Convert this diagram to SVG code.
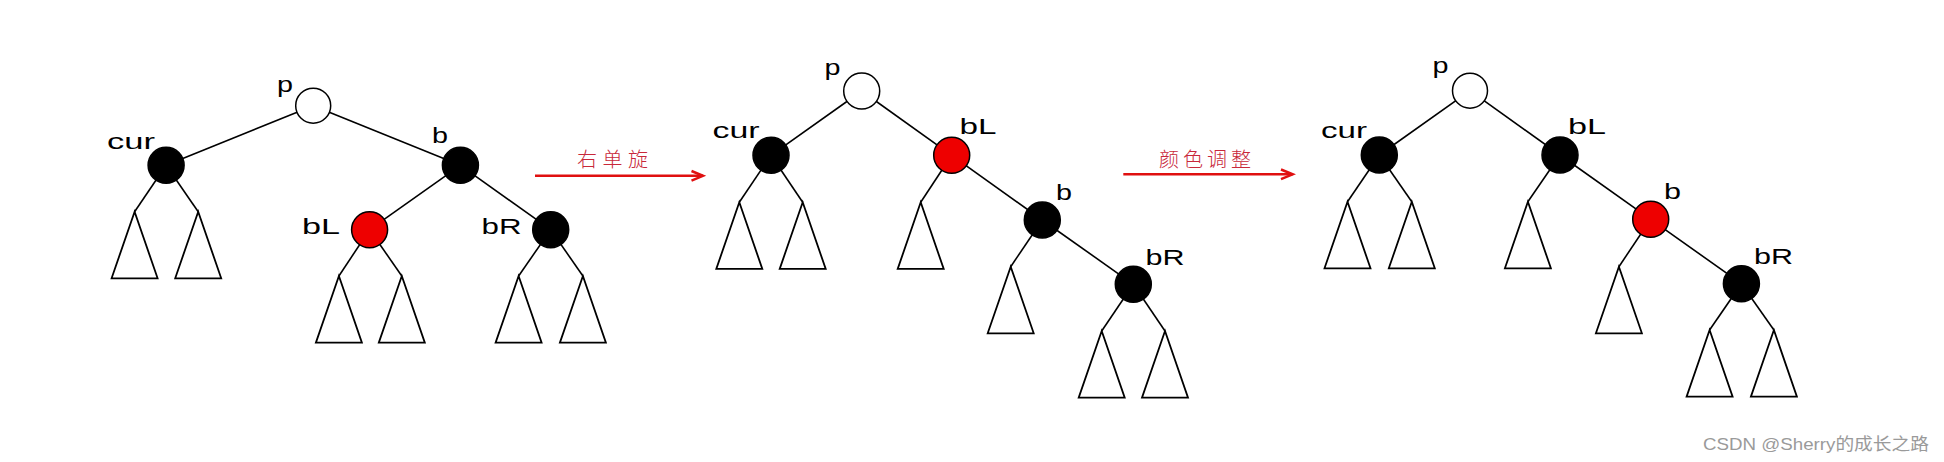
<svg xmlns="http://www.w3.org/2000/svg" width="1944" height="462" viewBox="0 0 1944 462">
<style>
.edge{stroke:#000;stroke-width:1.6;fill:none}
.tri{stroke:#000;stroke-width:1.8;fill:#fff;stroke-linejoin:miter}
.blk{fill:#000;stroke:#000;stroke-width:1.5}
.red{fill:#ee0000;stroke:#000;stroke-width:1.5}
.wht{fill:#fff;stroke:#000;stroke-width:1.5}
.lbl{font-family:"Liberation Sans",Arial,sans-serif;font-size:22px;fill:#000}
.cn{font-family:"Noto Sans CJK SC",sans-serif;font-size:20px;fill:#c8283a;font-weight:300}
.arr{stroke:#e01010;stroke-width:2.5;fill:none}
.wm{font-family:"Liberation Sans","Noto Sans CJK SC",sans-serif;font-size:17px;fill:#9a9a9a}
</style>
<defs>
<path id="tri" d="M0,0 L-23,66.6 L23,66.6 Z" class="tri"/>
</defs>
<rect width="1944" height="462" fill="#fff"/>

<!-- connectors -->
<g id="connectors">
  <!-- tree 1 -->
  <line class="edge" x1="313.2" y1="105.7" x2="166.1" y2="165.3"/>
  <line class="edge" x1="313.2" y1="105.7" x2="460.4" y2="165.3"/>
  <line class="edge" x1="460.4" y1="165.3" x2="369.6" y2="229.7"/>
  <line class="edge" x1="460.4" y1="165.3" x2="550.7" y2="229.7"/>
  <line class="edge" x1="166.1" y1="165.3" x2="134.6" y2="211.7"/>
  <line class="edge" x1="166.1" y1="165.3" x2="198.2" y2="211.7"/>
  <line class="edge" x1="369.6" y1="229.7" x2="338.9" y2="276"/>
  <line class="edge" x1="369.6" y1="229.7" x2="401.8" y2="276"/>
  <line class="edge" x1="550.7" y1="229.7" x2="518.6" y2="276"/>
  <line class="edge" x1="550.7" y1="229.7" x2="582.9" y2="276"/>
  <!-- tree 2 -->
  <line class="edge" x1="861.7" y1="91" x2="771" y2="155.3"/>
  <line class="edge" x1="861.7" y1="91" x2="951.7" y2="155.3"/>
  <line class="edge" x1="951.7" y1="155.3" x2="1042.3" y2="220"/>
  <line class="edge" x1="1042.3" y1="220" x2="1133.3" y2="284.3"/>
  <line class="edge" x1="771" y1="155.3" x2="739.3" y2="202.3"/>
  <line class="edge" x1="771" y1="155.3" x2="802.7" y2="202.3"/>
  <line class="edge" x1="951.7" y1="155.3" x2="920.7" y2="202.3"/>
  <line class="edge" x1="1042.3" y1="220" x2="1010.7" y2="266.7"/>
  <line class="edge" x1="1133.3" y1="284.3" x2="1101.7" y2="331"/>
  <line class="edge" x1="1133.3" y1="284.3" x2="1165" y2="331"/>
  <!-- tree 3 -->
  <line class="edge" x1="1470" y1="90.7" x2="1379.3" y2="155"/>
  <line class="edge" x1="1470" y1="90.7" x2="1560" y2="155"/>
  <line class="edge" x1="1560" y1="155" x2="1650.7" y2="219.3"/>
  <line class="edge" x1="1650.7" y1="219.3" x2="1741.4" y2="283.7"/>
  <line class="edge" x1="1379.3" y1="155" x2="1347.5" y2="201.7"/>
  <line class="edge" x1="1379.3" y1="155" x2="1411.8" y2="201.7"/>
  <line class="edge" x1="1560" y1="155" x2="1527.9" y2="201.7"/>
  <line class="edge" x1="1650.7" y1="219.3" x2="1618.9" y2="266.7"/>
  <line class="edge" x1="1741.4" y1="283.7" x2="1709.6" y2="330"/>
  <line class="edge" x1="1741.4" y1="283.7" x2="1773.9" y2="330"/>
</g>

<!-- subtrees (triangles) -->
<g id="subtrees">
  <use href="#tri" x="134.6" y="211.7"/>
  <use href="#tri" x="198.2" y="211.7"/>
  <use href="#tri" x="338.9" y="276"/>
  <use href="#tri" x="401.8" y="276"/>
  <use href="#tri" x="518.6" y="276"/>
  <use href="#tri" x="582.9" y="276"/>

  <use href="#tri" x="739.3" y="202.3"/>
  <use href="#tri" x="802.7" y="202.3"/>
  <use href="#tri" x="920.7" y="202.3"/>
  <use href="#tri" x="1010.7" y="266.7"/>
  <use href="#tri" x="1101.7" y="331"/>
  <use href="#tri" x="1165" y="331"/>

  <use href="#tri" x="1347.5" y="201.7"/>
  <use href="#tri" x="1411.8" y="201.7"/>
  <use href="#tri" x="1527.9" y="201.7"/>
  <use href="#tri" x="1618.9" y="266.7"/>
  <use href="#tri" x="1709.6" y="330"/>
  <use href="#tri" x="1773.9" y="330"/>
</g>

<!-- tree 1 nodes -->
<g id="t1-p"><circle class="wht" cx="313.2" cy="105.7" r="17.5"/><text class="lbl" x="277" y="91.7" textLength="16" lengthAdjust="spacingAndGlyphs">p</text></g>
<g id="t1-cur"><circle class="blk" cx="166.1" cy="165.3" r="18"/><text class="lbl" x="107" y="149" textLength="48" lengthAdjust="spacingAndGlyphs">cur</text></g>
<g id="t1-b"><circle class="blk" cx="460.4" cy="165.3" r="18"/><text class="lbl" x="432" y="143.3" textLength="16" lengthAdjust="spacingAndGlyphs">b</text></g>
<g id="t1-bL"><circle class="red" cx="369.6" cy="229.7" r="18"/><text class="lbl" x="302" y="233.5" textLength="38" lengthAdjust="spacingAndGlyphs">bL</text></g>
<g id="t1-bR"><circle class="blk" cx="550.7" cy="229.7" r="18"/><text class="lbl" x="481.5" y="234" textLength="40" lengthAdjust="spacingAndGlyphs">bR</text></g>

<!-- arrow 1 -->
<g id="arrow1">
  <line class="arr" x1="535" y1="175.8" x2="703" y2="175.8"/>
  <polyline class="arr" points="691.5,171 703,175.8 691.5,180.6"/>
  <text class="cn" x="577" y="167" textLength="71" lengthAdjust="spacing">右单旋</text>
</g>

<!-- tree 2 nodes -->
<g id="t2-p"><circle class="wht" cx="861.7" cy="91" r="18"/><text class="lbl" x="824.5" y="75" textLength="16" lengthAdjust="spacingAndGlyphs">p</text></g>
<g id="t2-cur"><circle class="blk" cx="771" cy="155.3" r="18"/><text class="lbl" x="712.5" y="138.3" textLength="47" lengthAdjust="spacingAndGlyphs">cur</text></g>
<g id="t2-bL"><circle class="red" cx="951.7" cy="155.3" r="18"/><text class="lbl" x="959.5" y="134.3" textLength="37" lengthAdjust="spacingAndGlyphs">bL</text></g>
<g id="t2-b"><circle class="blk" cx="1042.3" cy="220" r="18"/><text class="lbl" x="1056" y="200" textLength="16" lengthAdjust="spacingAndGlyphs">b</text></g>
<g id="t2-bR"><circle class="blk" cx="1133.3" cy="284.3" r="18"/><text class="lbl" x="1145.5" y="265" textLength="39" lengthAdjust="spacingAndGlyphs">bR</text></g>

<!-- arrow 2 -->
<g id="arrow2">
  <line class="arr" x1="1123.3" y1="174.3" x2="1292.7" y2="174.3"/>
  <polyline class="arr" points="1281,169.5 1292.7,174.3 1281,179.1"/>
  <text class="cn" x="1159" y="167" textLength="92" lengthAdjust="spacing">颜色调整</text>
</g>

<!-- tree 3 nodes -->
<g id="t3-p"><circle class="wht" cx="1470" cy="90.7" r="17.5"/><text class="lbl" x="1432.5" y="73.3" textLength="16" lengthAdjust="spacingAndGlyphs">p</text></g>
<g id="t3-cur"><circle class="blk" cx="1379.3" cy="155" r="18"/><text class="lbl" x="1321" y="137.7" textLength="46" lengthAdjust="spacingAndGlyphs">cur</text></g>
<g id="t3-bL"><circle class="blk" cx="1560" cy="155" r="18"/><text class="lbl" x="1568" y="134.3" textLength="38" lengthAdjust="spacingAndGlyphs">bL</text></g>
<g id="t3-b"><circle class="red" cx="1650.7" cy="219.3" r="18"/><text class="lbl" x="1664" y="199.3" textLength="17" lengthAdjust="spacingAndGlyphs">b</text></g>
<g id="t3-bR"><circle class="blk" cx="1741.4" cy="283.7" r="18"/><text class="lbl" x="1754" y="264" textLength="39" lengthAdjust="spacingAndGlyphs">bR</text></g>

<text class="wm" x="1703" y="450" textLength="226" lengthAdjust="spacingAndGlyphs">CSDN @Sherry的成长之路</text>
</svg>
